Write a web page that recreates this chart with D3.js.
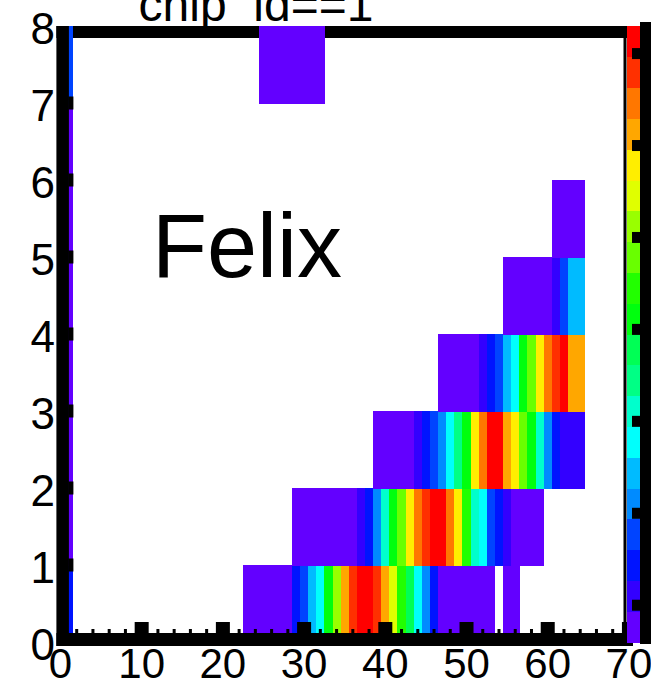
<!DOCTYPE html>
<html>
<head>
<meta charset="utf-8">
<script src="https://cdn.jsdelivr.net/npm/d3@7"></script>
<style>
  html, body { margin: 0; padding: 0; background: #fff; }
  svg { display: block; }
  text { font-family: "Liberation Sans", Arial, Helvetica, sans-serif; fill: #000; }
</style>
</head>
<body>
<svg id="chart" width="651" height="687"></svg>
<script>
// chip_id==1 hit map, drawn as a COLZ-style 2D histogram (x bins of width 1 centred on integers, y bins [k, k+1))
const titleText = "chip_id==1";
const panelLabel = "Felix";

const xTickValues = [0, 10, 20, 30, 40, 50, 60, 70];
const yTickValues = [0, 1, 2, 3, 4, 5, 6, 7, 8];
const zTickValues = [10, 20, 30, 40, 50, 60, 70];
const zRange = [6, 73];
const nLevels = 20;

// Per-row bin contents: first x bin, then consecutive contents (0 = empty bin)
const row0Start = 23;
const row0 = [7, 8, 8, 9, 8, 9, 14, 17, 24, 28, 40, 51, 61, 67, 71, 72, 68, 62, 54, 45, 37, 27, 21, 15,
              9, 8, 8, 7, 7, 7, 7, 0, 7, 7];
const row1Start = 29;
const row1 = [8, 8, 8, 8, 8, 9, 9, 9, 11, 14, 22, 31, 41, 48, 58, 65, 69, 72, 71, 63, 57, 44, 31, 27,
              18, 14, 11, 9, 8, 8, 7];
const row2Start = 39;
const row2 = [8, 8, 8, 9, 9, 11, 14, 17, 22, 28, 34, 42, 58, 65, 71, 70, 62, 57, 48, 41, 31, 22, 14,
              11, 11, 10];
const row3Start = 47;
const row3 = [8, 8, 8, 8, 9, 11, 14, 17, 24, 28, 40, 48, 58, 64, 68, 70, 61, 62];
const row4Start = 55;
const row4 = [8, 8, 8, 8, 9, 9, 11, 17, 24, 25];
const row5Start = 61;
const row5 = [8, 8, 8, 9];
const row6Start = 0;
const row6 = [];
const row7Start = 25;
const row7 = [8, 8, 8, 8, 8, 8, 8, 8];
// column at x = 1, rows 0..7 (mostly under the left frame edge)
const edgeColumnX = 1;
const edgeColumn = [14, 8, 8, 8, 8, 8, 8, 17];

const rowStarts = [row0Start, row1Start, row2Start, row3Start, row4Start, row5Start, row6Start, row7Start];
const rowValues = [row0, row1, row2, row3, row4, row5, row6, row7];

const bins = [];
edgeColumn.forEach((v, r) => bins.push({ x: edgeColumnX, y: r, v }));
rowValues.forEach((vals, r) => {
  vals.forEach((v, i) => { if (v > 0) bins.push({ x: rowStarts[r] + i, y: r, v }); });
});

const svg = d3.select("#chart");

const x = d3.scaleLinear().domain([-0.5, 70.5]).range([56.4, 633]);
const y = d3.scaleLinear().domain([0, 8]).range([642, 26]);
const zPos = d3.scaleLinear().domain(zRange).range([642, 26]);

// ROOT "pretty" violet -> red palette: 50 HLS colours, sampled for 20 contour levels
function levelColor(k) {
  const idx = Math.floor((k + 0.99) * 50 / nLevels);
  const hue = idx < 49 ? 280 - (idx + 1) * 5.6 : 0;
  return d3.hsl(hue, 1, 0.5).formatHex();
}
const levelOf = v => Math.min(nLevels - 1, Math.max(0, Math.floor((v - zRange[0]) / (zRange[1] - zRange[0]) * nLevels)));

const frameLeft = x(-0.5);
const frameRight = x(70.5);

// frame top border (sits under the bins)
svg.append("rect")
  .attr("x", frameLeft).attr("y", y(8))
  .attr("width", frameRight - frameLeft).attr("height", 12)
  .attr("fill", "#000");

// histogram cells
svg.append("g").attr("shape-rendering", "crispEdges")
  .selectAll("rect").data(bins).join("rect")
  .attr("x", d => x(d.x - 0.5))
  .attr("y", d => y(d.y + 1))
  .attr("width", d => x(d.x + 0.5) - x(d.x - 0.5) + 0.5)
  .attr("height", d => y(d.y) - y(d.y + 1) + 0.5)
  .attr("fill", d => levelColor(levelOf(d.v)));

// left axis
const axisG = svg.append("g");
axisG.append("rect")
  .attr("x", frameLeft).attr("y", y(8))
  .attr("width", 12.5).attr("height", y(0) - y(8) + 4)
  .attr("fill", "#000");
axisG.selectAll("rect.ytick").data(yTickValues.filter(v => v > 0 && v < 8)).join("rect")
  .attr("class", "ytick")
  .attr("x", frameLeft + 12).attr("y", d => y(d) - 6.5)
  .attr("width", 5).attr("height", 13)
  .attr("fill", "#000");

// bottom axis
axisG.append("rect")
  .attr("x", frameLeft).attr("y", y(0) - 9)
  .attr("width", frameRight - frameLeft).attr("height", 13)
  .attr("fill", "#000");
const minorX = d3.range(0, 71, 2).filter(v => v % 10 !== 0);
axisG.selectAll("rect.xminor").data(minorX).join("rect")
  .attr("class", "xminor")
  .attr("x", d => x(d) - 1.5).attr("y", y(0) - 13)
  .attr("width", 3).attr("height", 5)
  .attr("fill", "#000");
axisG.selectAll("rect.xmajor").data(xTickValues.filter(v => v > 0)).join("rect")
  .attr("class", "xmajor")
  .attr("x", d => x(d) - 7).attr("y", d => y(0) - 20)
  .attr("width", 14).attr("height", 12)
  .attr("fill", "#000");

// tick labels
axisG.selectAll("text.xlab").data(xTickValues).join("text")
  .attr("class", "xlab")
  .attr("x", d => x(d)).attr("y", 678)
  .attr("text-anchor", "middle")
  .attr("font-size", 42)
  .text(d => d);
axisG.selectAll("text.ylab").data(yTickValues).join("text")
  .attr("class", "ylab")
  .attr("x", 55).attr("y", d => y(d) + 18)
  .attr("text-anchor", "end")
  .attr("font-size", 44)
  .text(d => d);

// colour palette on the right
const pal = svg.append("g");
const levelEdges = d3.range(nLevels + 1).map(k => zRange[0] + k * (zRange[1] - zRange[0]) / nLevels);
pal.append("g").attr("shape-rendering", "crispEdges")
  .selectAll("rect.band").data(d3.range(nLevels)).join("rect")
  .attr("class", "band")
  .attr("x", 627).attr("y", k => zPos(levelEdges[k + 1]))
  .attr("width", 13).attr("height", k => zPos(levelEdges[k]) - zPos(levelEdges[k + 1]) + 0.5)
  .attr("fill", k => levelColor(k));
pal.append("rect")
  .attr("x", 623.5).attr("y", zPos(zRange[1]))
  .attr("width", 3).attr("height", zPos(zRange[0]) - zPos(zRange[1]))
  .attr("fill", "#000");
pal.append("rect")
  .attr("x", 640).attr("y", zPos(zRange[1]) - 4)
  .attr("width", 14).attr("height", zPos(zRange[0]) - zPos(zRange[1]) + 6)
  .attr("fill", "#000");
pal.selectAll("rect.ztick").data(zTickValues).join("rect")
  .attr("class", "ztick")
  .attr("x", 632).attr("y", d => zPos(d) - 5.5)
  .attr("width", 8).attr("height", 11)
  .attr("fill", "#000");

// title (its upper part runs off the top edge) and panel label
svg.append("text")
  .attr("x", 256).attr("y", 21)
  .attr("text-anchor", "middle")
  .attr("font-size", 48)
  .text(titleText);
svg.append("text")
  .attr("x", 152).attr("y", 277)
  .attr("font-size", 90)
  .text(panelLabel);
</script>
</body>
</html>
